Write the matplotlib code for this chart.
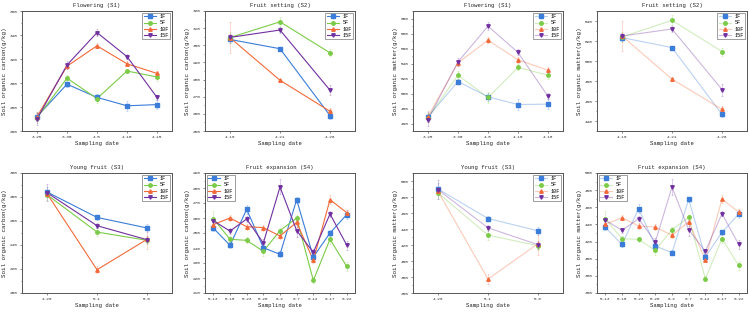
import matplotlib
matplotlib.use('Agg')
import matplotlib.pyplot as plt
from matplotlib.colors import to_rgba
from matplotlib.lines import Line2D
from matplotlib.ticker import MultipleLocator, AutoMinorLocator

plt.rcParams['font.family'] = ['Liberation Mono', 'DejaVu Sans Mono']

series = ['1F', '5F', '10F', '15F']
colors = ['#3b7dd8', '#7ccb48', '#f26a3a', '#7030a0']
markers = ['s', 'o', '^', 'v']

# sampling dates
dates_s1 = ['3.25', '3.30', '4.5', '4.10', '4.15']
dates_s2 = ['4.16', '4.21', '4.26']
dates_s3 = ['4.26', '5.1', '5.6']
dates_s4 = ['5.13', '5.18', '5.23', '5.28', '6.2', '6.7', '6.12', '6.17', '6.22']

# soil organic carbon (g/kg)
soc_s1 = [[272, 299, 288, 281, 282],
          [271, 304, 287, 310, 305],
          [272, 314, 331, 316, 308],
          [270, 315, 342, 322, 288]]
soc_s1_err = [[4, 2, 3, 4, 4], [4, 3, 4, 2, 3], [4, 2, 2, 2, 2], [5, 3, 3, 2, 2]]

soc_s2 = [[303.4, 298, 259],
          [304.5, 313.7, 295.6],
          [304.4, 279.6, 261.5],
          [304.6, 308.9, 273.8]]
soc_s2_err = [[2, 1, 2], [3, 3, 2], [9, 1, 2], [2, 2, 3]]

soc_s3 = [[284.2, 263, 254.2],
          [281.9, 250.8, 243.9],
          [282.8, 219.4, 244.7],
          [283.6, 256.1, 244.4]]
soc_s3_err = [[4, 2, 3], [4, 3, 3], [3, 3, 8], [7, 2, 3]]

soc_s4 = [[253.3, 241.8, 265.8, 240.2, 235.8, 272.2, 234, 250, 262.2],
          [259.6, 245.8, 245.1, 237.8, 251.6, 260, 218.4, 245.8, 227.8],
          [255.6, 260, 254.2, 253.6, 248, 257.1, 231.8, 272.2, 263.6],
          [258.2, 251.3, 259.3, 243.3, 280.7, 251.6, 237.1, 262.7, 242]]
soc_s4_err = [[2, 2, 3, 2, 2, 2, 2, 2, 3],
              [5, 2, 2, 3, 2, 2, 2, 3, 3],
              [3, 2, 2, 2, 2, 3, 2, 3, 2],
              [2, 2, 2, 3, 5, 4, 2, 2, 3]]

# soil organic matter (g/kg)
som_s1 = [[469, 516, 495.6, 485.3, 485.8],
          [467.6, 524.4, 494.7, 534.7, 524.4],
          [469.3, 540.9, 571.1, 544.9, 531.1],
          [465.3, 542.2, 589.8, 554.7, 496.4]]
som_s1_err = [[6, 3, 5, 7, 7], [6, 5, 7, 4, 5], [7, 4, 4, 4, 4], [8, 5, 5, 4, 4]]

som_s2 = [[523.4, 513.4, 446.6],
          [524, 540.7, 509.4],
          [525, 481.9, 451.6],
          [525, 532, 471.5]]
som_s2_err = [[3, 2, 3], [5, 5, 4], [15, 2, 3], [3, 3, 6]]

som_s3 = [[490, 453.1, 437.8],
          [485, 432.4, 419.1],
          [487.1, 377.4, 421.6],
          [489.2, 441.5, 420.4]]
som_s3_err = [[7, 3, 5], [7, 6, 5], [5, 6, 14], [12, 4, 5]]

som_s4 = [[436.6, 416.7, 458.4, 414.8, 407, 469.3, 402, 430.7, 452.1],
          [446.7, 423.3, 422.6, 409.7, 433.9, 448.2, 376.7, 423.3, 392.2],
          [440.1, 447.9, 438.1, 437, 427.2, 443.2, 398.8, 469.6, 454.5],
          [445.1, 433.1, 446.7, 419.5, 483.7, 433.9, 408.6, 452.5, 416.7]]
som_s4_err = [[3, 3, 5, 3, 3, 3, 3, 3, 5],
              [9, 3, 3, 5, 3, 3, 3, 5, 5],
              [5, 3, 3, 3, 3, 5, 3, 5, 3],
              [3, 3, 3, 5, 9, 7, 3, 3, 5]]

panels = [
    # (left px, top px, title, dates, values, errors, ylim, ystep, ylabel, legend loc, pale)
    (22, 11, 'Flowering (S1)', dates_s1, soc_s1, soc_s1_err, (260, 360), 20, 'carbon', 'upper right', False),
    (205, 11, 'Fruit setting (S2)', dates_s2, soc_s2, soc_s2_err, (250, 320), 10, 'carbon', 'upper right', False),
    (413, 11, 'Flowering (S1)', dates_s1, som_s1, som_s1_err, (450, 610), 20, 'matter', 'upper right', True),
    (597, 11, 'Fruit setting (S2)', dates_s2, som_s2, som_s2_err, (430, 550), 20, 'matter', 'upper right', True),
    (22, 173, 'Young fruit (S3)', dates_s3, soc_s3, soc_s3_err, (200, 300), 20, 'carbon', 'upper right', False),
    (205, 173, 'Fruit expansion (S4)', dates_s4, soc_s4, soc_s4_err, (210, 290), 10, 'carbon', 'upper left', False),
    (413, 173, 'Young fruit (S3)', dates_s3, som_s3, som_s3_err, (360, 510), 20, 'matter', 'upper right', True),
    (597, 173, 'Fruit expansion (S4)', dates_s4, som_s4, som_s4_err, (360, 500), 20, 'matter', 'upper left', True),
]

W, H = 749, 312
fig = plt.figure(figsize=(W / 100, H / 100), dpi=100)

for left, top, title, dates, vals, errs, ylim, ystep, kind, loc, pale in panels:
    ax = fig.add_axes([left / W, 1 - (top + 120) / H, 150 / W, 120 / H])
    x = list(range(len(dates)))
    handles = []
    for i, name in enumerate(series):
        c = colors[i]
        lc = to_rgba(c, 0.35 if pale else 1.0)
        ax.errorbar(x, vals[i], yerr=errs[i], fmt='none', ecolor=to_rgba(c, 0.35),
                    elinewidth=0.5, capsize=1.0, capthick=0.5, zorder=2)
        ax.plot(x, vals[i], color=lc, lw=0.8, zorder=3)
        ax.plot(x, vals[i], ls='none', marker=markers[i], ms=2.5, color=c,
                mec=c, zorder=4)
        handles.append(Line2D([0], [0], color=lc, lw=0.8,
                              marker=markers[i], ms=2.5, mfc=c, mec=c))
    ax.set_xlim(-0.5, len(dates) - 0.5)
    ax.set_ylim(*ylim)
    ax.set_xticks(x)
    ax.set_xticklabels(dates)
    ax.yaxis.set_major_locator(MultipleLocator(ystep))
    ax.yaxis.set_minor_locator(AutoMinorLocator(2))
    ax.tick_params(axis='both', which='major', labelsize=3.2, length=1.5, width=0.4,
                   pad=1.5, colors='#333333')
    ax.tick_params(axis='y', which='minor', length=0.9, width=0.4, colors='#333333')
    for s in ax.spines.values():
        s.set_linewidth(0.7)
        s.set_color('#555555')
    ax.set_title(title, fontsize=4.1, pad=3, color='#222222')
    ax.set_xlabel('Sampling date', fontsize=4.1, labelpad=1, color='#222222')
    ax.set_ylabel('Soil organic %s(g/kg)' % kind, fontsize=4.2, labelpad=2, color='#222222')
    leg = ax.legend(handles, series, loc=loc, fontsize=3.7, frameon=True, fancybox=False,
                    edgecolor='#555555', handlelength=2.4, borderpad=0.3,
                    labelspacing=0.25, handletextpad=0.7, borderaxespad=0.3)
    leg.get_frame().set_linewidth(0.5)

fig.savefig('out.png', dpi=100)
